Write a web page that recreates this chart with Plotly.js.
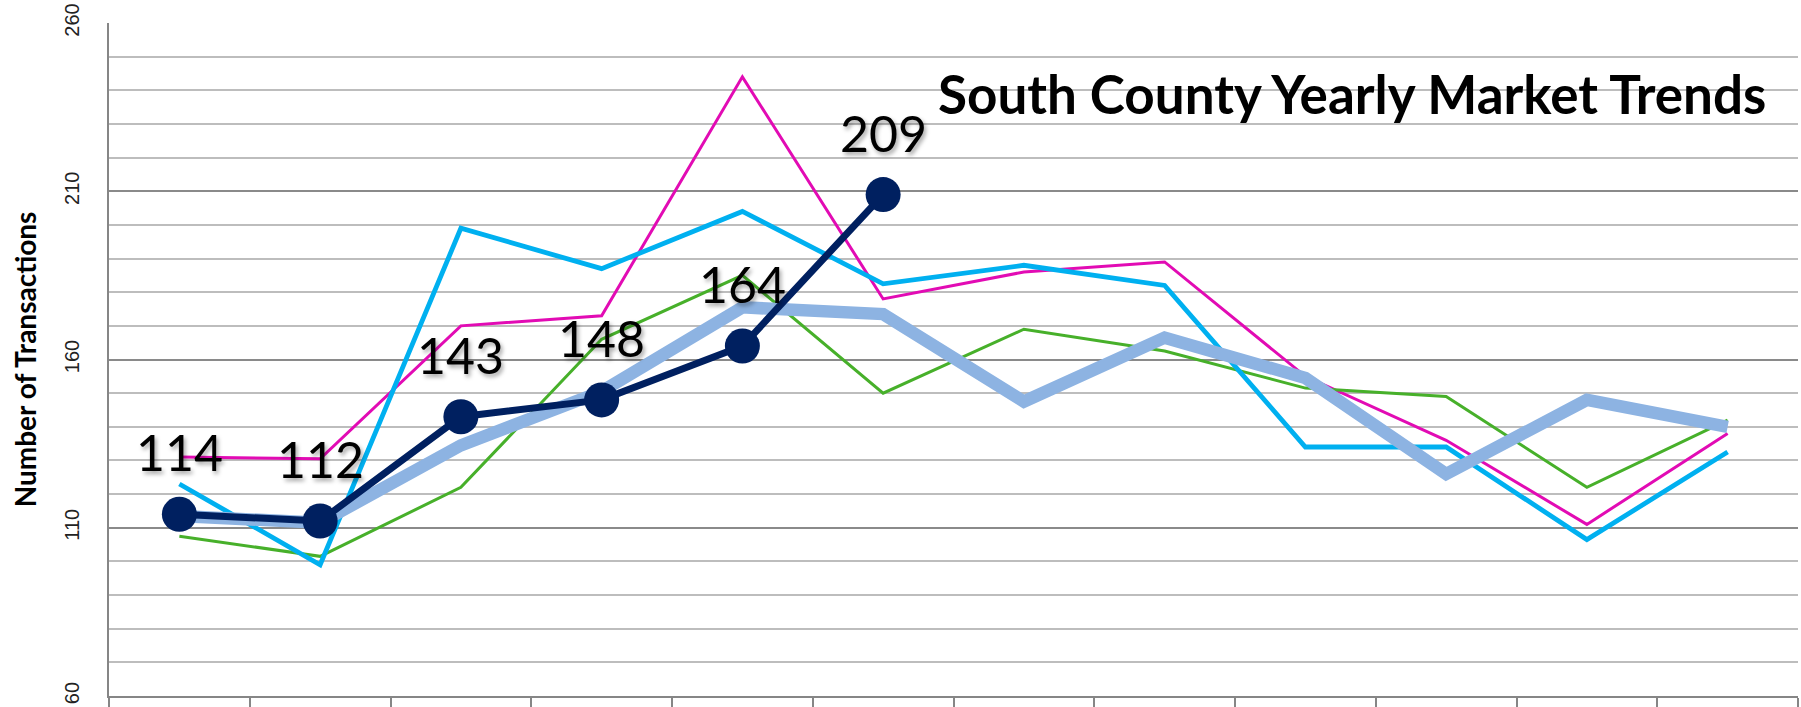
<!DOCTYPE html>
<html>
<head>
<meta charset="utf-8">
<script src="https://cdn.plot.ly/plotly-3.0.1.min.js"></script>
<style>
  html, body { margin: 0; padding: 0; background: #ffffff; }
  #chart { width: 1801px; height: 707px; }
</style>
</head>
<body>
<div id="chart"></div>
<script>
// ---- data ----
const months = ['Jan', 'Feb', 'Mar', 'Apr', 'May', 'Jun', 'Jul', 'Aug', 'Sep', 'Oct', 'Nov', 'Dec'];
const seriesMagenta = [131, 130.5, 170, 173, 244, 178, 186, 189, 155, 136, 111, 138];
const seriesGreen   = [107.5, 101.5, 122, 166, 185, 150, 169, 162.5, 151.5, 149, 122, 142];
const seriesCyan    = [123, 99, 199, 187, 204, 182.5, 188, 182, 134, 134, 106.5, 132.5];
const seriesAverage = [113.5, 111.5, 134.5, 150.5, 175.5, 173.5, 147.5, 166.5, 154.5, 126, 148, 140];
const currentMonths = ['Jan', 'Feb', 'Mar', 'Apr', 'May', 'Jun'];
const currentYear   = [114, 112, 143, 148, 164, 209];

const titleText = 'South County Yearly Market Trends';
const yTitle = 'Number of Transactions';

const traces = [
  { x: months, y: seriesMagenta, type: 'scatter', mode: 'lines', name: 'Year A',
    line: { color: '#E20BB4', width: 3 } },
  { x: months, y: seriesGreen, type: 'scatter', mode: 'lines', name: 'Year B',
    line: { color: '#47B02A', width: 3 } },
  { x: months, y: seriesCyan, type: 'scatter', mode: 'lines', name: 'Year C',
    line: { color: '#00B0F0', width: 4.8 } },
  { x: months, y: seriesAverage, type: 'scatter', mode: 'lines', name: 'Average',
    line: { color: '#8DB3E2', width: 12.5 } },
  { x: currentMonths, y: currentYear, type: 'scatter', mode: 'lines+markers', name: 'Current',
    line: { color: '#002060', width: 7 },
    marker: { color: '#002060', size: 35 } }
];

const annotations = currentMonths.map((m, i) => ({
  x: m, y: currentYear[i], xref: 'x', yref: 'y',
  text: String(currentYear[i]), showarrow: false,
  xanchor: 'center', yanchor: 'middle', yshift: 62,
  font: { family: 'Lato, "Open Sans", sans-serif', size: 50, color: '#000000',
          shadow: '2px 3px 4px rgba(0,0,0,0.35)' }
}));

const layout = {
  width: 1801, height: 707,
  margin: { l: 109, r: 3, t: 23, b: 11, pad: 0 },
  paper_bgcolor: '#ffffff', plot_bgcolor: '#ffffff',
  showlegend: false,
  title: {
    text: '<b>' + titleText + '</b>',
    x: 938 / 1801, xanchor: 'left', xref: 'container',
    y: 1 - 95 / 707, yanchor: 'middle', yref: 'container',
    font: { family: 'Lato, "Open Sans", sans-serif', size: 53, color: '#000000' }
  },
  xaxis: {
    type: 'category', categoryorder: 'array', categoryarray: months,
    range: [-0.5, 11.5],
    tickson: 'boundaries', ticks: 'outside', ticklen: 12, tickwidth: 2, tickcolor: '#868686',
    showticklabels: false, showgrid: false, zeroline: false,
    showline: true, linecolor: '#868686', linewidth: 2,
    fixedrange: true
  },
  yaxis: {
    range: [60, 260], tick0: 60, dtick: 50,
    showgrid: true, gridcolor: '#8A8A8A', gridwidth: 2,
    minor: { dtick: 10, showgrid: true, gridcolor: '#BDBDBD', gridwidth: 2, ticks: '' },
    ticks: '', tickangle: -90, ticklabelstandoff: 20,
    tickfont: { family: '"Liberation Sans", Arial, sans-serif', size: 20, color: '#222222' },
    showline: true, linecolor: '#868686', linewidth: 2, zeroline: false,
    automargin: false,
    title: { text: '<b>' + yTitle + '</b>', standoff: 16,
             font: { family: 'Lato, "Open Sans", sans-serif', size: 28, color: '#000000' } },
    fixedrange: true
  },
  annotations: annotations
};

Plotly.newPlot('chart', traces, layout, { displayModeBar: false, staticPlot: true });
</script>
</body>
</html>
